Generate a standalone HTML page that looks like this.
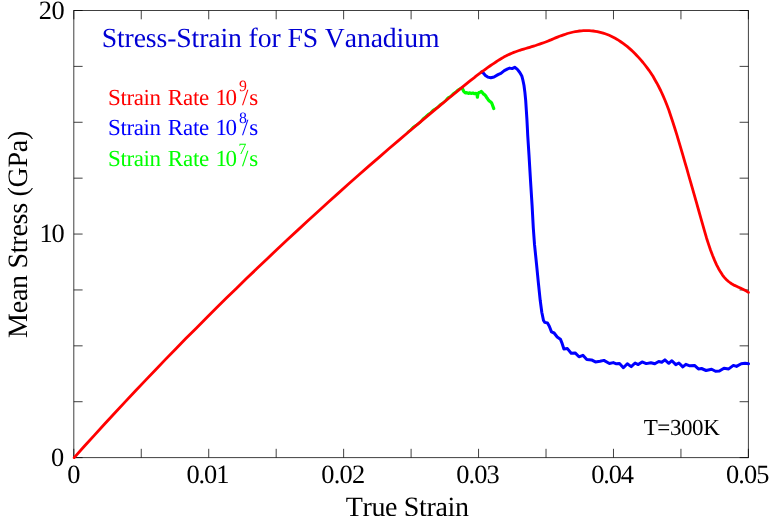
<!DOCTYPE html>
<html><head><meta charset="utf-8"><title>Stress-Strain for FS Vanadium</title>
<style>
html,body{margin:0;padding:0;background:#fff;overflow:hidden}
svg{display:block;will-change:transform}
text{font-family:"Liberation Serif",serif;font-kerning:none;text-rendering:geometricPrecision}
</style></head><body>
<svg width="771" height="516" viewBox="0 0 771 516">
<rect width="771" height="516" fill="#fff"/>
<rect x="73.8" y="10.5" width="674.6" height="447.1" fill="none" stroke="#000" stroke-opacity="0.75" stroke-width="1"/>
<path d="M73.80 457.6V448.8M73.80 10.5V19.3M141.26 457.6V448.8M141.26 10.5V19.3M208.72 457.6V448.8M208.72 10.5V19.3M276.18 457.6V448.8M276.18 10.5V19.3M343.64 457.6V448.8M343.64 10.5V19.3M411.10 457.6V448.8M411.10 10.5V19.3M478.56 457.6V448.8M478.56 10.5V19.3M546.02 457.6V448.8M546.02 10.5V19.3M613.48 457.6V448.8M613.48 10.5V19.3M680.94 457.6V448.8M680.94 10.5V19.3M748.40 457.6V448.8M748.40 10.5V19.3M73.8 457.60H82.6M748.4 457.60H739.6M73.8 401.71H82.6M748.4 401.71H739.6M73.8 345.83H82.6M748.4 345.83H739.6M73.8 289.94H82.6M748.4 289.94H739.6M73.8 234.05H82.6M748.4 234.05H739.6M73.8 178.16H82.6M748.4 178.16H739.6M73.8 122.27H82.6M748.4 122.27H739.6M73.8 66.39H82.6M748.4 66.39H739.6M73.8 10.50H82.6M748.4 10.50H739.6" fill="none" stroke="#000" stroke-opacity="0.75" stroke-width="1"/>
<g fill="none" stroke-linejoin="round" stroke-linecap="round">
<polyline points="408.0,132.0 410.5,130.1 413.0,127.3 415.5,125.6 418.0,124.1 420.5,122.0 423.0,118.7 425.5,116.7 428.0,114.4 430.5,112.9 433.0,110.1 435.5,108.7 438.0,107.0 440.5,104.3 443.0,102.9 445.5,100.6 448.0,97.7 450.5,96.4 453.0,93.9 455.5,92.1 458.0,89.8 460.5,88.4" stroke="#00ff00" stroke-width="2.6"/>
<polyline points="461.8,88.0 462.5,88.8 463.7,91.3 465.3,92.8 466.8,92.7 468.4,93.4 470.0,92.9 471.5,93.4 473.0,93.0 474.6,93.7 476.0,93.4 477.1,94.6 477.4,97.2 477.8,94.2 478.9,92.5 480.2,92.2 481.4,91.5 482.4,92.6 483.3,93.8 484.5,94.6 485.7,95.9 486.6,97.4 487.6,98.7 488.5,100.2 489.5,101.2 490.6,101.8 491.6,102.8 492.3,104.5 492.9,106.2 493.8,108.6" stroke="#00ff00" stroke-width="3.2"/>
<polyline points="481.6,72.1 483.1,72.8 485.4,75.5 487.8,77.1 490.8,77.7 494.0,77.0 498.0,74.6 500.9,73.3 504.3,70.6 507.7,68.8 509.6,68.1 512.1,68.6 514.7,67.3 517.4,69.4 519.8,72.5 521.8,75.9 522.7,79.3 523.5,83.0 524.0,85.5 524.9,92.4 525.7,100.6 526.3,109.9 526.9,119.2 527.4,128.5 527.7,135.0 529.0,155.2 530.5,180.4 532.1,205.6 533.3,228.0 534.5,244.4 536.5,263.8 538.4,283.1 540.2,300.3 541.8,312.3 543.5,320.5 544.8,322.4 547.5,323.0 549.3,326.2 551.5,331.9 554.1,333.0 557.2,337.0 560.4,339.2 561.9,342.8 563.9,349.0 567.4,348.6 571.2,353.2 575.1,352.9 579.0,356.8 582.9,355.3 586.8,359.6 591.5,359.9 595.4,361.9 600.0,361.2 603.9,360.4 609.4,363.5 613.3,362.6 616.4,363.8 619.5,363.5 623.4,367.7 627.3,363.8 631.2,366.6 635.1,363.0 638.2,364.6 642.1,361.9 646.2,363.6 650.9,362.7 654.8,363.8 658.7,361.5 661.8,362.2 664.9,359.9 668.8,363.3 671.9,360.7 675.8,364.6 678.9,363.0 682.8,366.9 685.9,364.3 689.8,365.8 694.5,365.4 698.4,368.9 701.5,368.5 706.1,370.5 711.6,369.2 715.5,371.3 719.4,371.1 724.0,368.2 728.7,368.9 733.4,365.4 736.5,366.4 741.2,363.8 745.1,363.3 748.5,363.8" stroke="#0000ff" stroke-width="3.0"/>
<polyline points="74.2,457.6 84.3,446.3 94.5,435.1 104.6,424.0 114.8,413.0 124.9,402.1 135.1,391.3 145.2,380.6 155.4,370.0 165.5,359.4 175.7,349.0 185.8,338.6 196.0,328.4 206.1,318.2 216.3,308.1 226.4,298.1 236.6,288.2 246.7,278.3 256.9,268.6 267.0,258.9 277.2,249.3 287.3,239.8 297.5,230.4 307.6,221.0 317.8,211.7 327.9,202.5 338.1,193.4 348.2,184.3 358.4,175.3 368.5,166.4 378.7,157.6 388.8,148.8 399.0,140.1 409.1,131.5 419.3,122.9 429.4,114.4 439.6,105.9 449.7,97.5 459.9,89.1 470.0,80.9 472.0,79.3 474.0,77.8 476.0,76.2 478.0,74.7 480.0,73.2 481.9,71.7 483.9,70.3 485.9,68.8 487.9,67.4 489.9,66.0 491.9,64.6 493.9,63.3 495.9,62.0 497.9,60.7 499.8,59.5 501.8,58.3 503.8,57.1 505.8,56.1 507.8,55.0 509.8,54.1 511.8,53.2 513.8,52.4 515.7,51.7 517.7,51.0 519.7,50.3 521.7,49.7 523.7,49.1 525.7,48.5 527.7,47.9 529.7,47.3 531.7,46.7 533.6,46.1 535.6,45.5 537.6,44.8 539.6,44.1 541.6,43.4 543.6,42.7 545.6,42.0 547.6,41.2 549.6,40.4 551.5,39.6 553.5,38.7 555.5,37.9 557.5,37.1 559.5,36.3 561.5,35.6 563.5,34.9 565.5,34.2 567.4,33.5 569.4,33.0 571.4,32.5 573.4,32.0 575.4,31.6 577.4,31.3 579.4,31.0 581.4,30.8 583.4,30.7 585.3,30.6 587.3,30.6 589.3,30.7 591.3,30.8 593.3,31.0 595.3,31.3 597.3,31.6 599.3,32.1 601.3,32.6 603.2,33.1 605.2,33.8 607.2,34.5 609.2,35.3 611.2,36.2 613.2,37.2 615.2,38.3 617.2,39.4 619.1,40.6 621.1,42.0 623.1,43.4 625.1,44.9 627.1,46.4 629.1,48.1 631.1,49.9 633.1,51.7 635.1,53.7 637.0,55.8 639.0,57.9 641.0,60.2 643.0,62.5 645.0,65.0 647.0,67.6 649.0,70.3 651.0,73.2 653.0,76.3 654.9,79.7 656.9,83.2 658.9,87.0 660.9,91.0 662.9,95.4 664.9,100.0 666.9,105.0 668.9,110.3 670.8,116.0 672.8,122.0 674.8,128.2 676.8,134.7 678.8,141.4 680.8,148.1 682.8,154.9 684.8,161.8 686.8,168.6 688.7,175.5 690.7,182.4 692.7,189.4 694.7,196.4 696.7,203.4 698.7,210.5 700.7,217.6 702.7,224.7 704.7,231.6 706.6,238.2 708.6,244.4 710.6,250.2 712.6,255.5 714.6,260.4 716.6,264.8 718.6,268.7 720.6,272.1 722.5,275.1 724.5,277.6 726.5,279.7 728.5,281.5 730.5,283.0 732.5,284.3 734.5,285.4 736.5,286.3 738.5,287.2 740.4,288.1 742.4,289.0 744.4,290.0 746.4,291.1 748.4,292.4" stroke="#ff0000" stroke-width="2.8"/>
</g>
<g fill="#000"><text x="67.19" y="482.5" font-size="26.4">0</text><text x="186.41 198.54 204.08 216.21" y="482.5" font-size="26.4">0.01</text><text x="321.33 333.76 339.58 352.00" y="482.5" font-size="26.4">0.02</text><text x="456.25 468.53 474.21 486.49" y="482.5" font-size="26.4">0.03</text><text x="591.17 603.25 608.72 620.79" y="482.5" font-size="26.4">0.04</text><text x="726.09 738.37 744.05 756.33" y="482.5" font-size="26.4">0.05</text><text x="51.09" y="466.3" font-size="26.4">0</text><text x="39.58 51.41" y="242.4" font-size="26.4">10</text><text x="38.84 51.41" y="18.5" font-size="26.4">20</text>
<text x="345.69 362.46 371.44 385.10 397.19 403.85 419.08 426.52 435.50 447.59 455.02" y="516" font-size="28">True Strain</text>
<g transform="translate(26.6 234.5) rotate(-90)"><text x="-103.41 -78.78 -66.62 -54.46 -40.72 -33.99 -18.69 -11.18 -2.12 10.04 20.67 31.30 38.03 47.09 67.04 82.35 94.51" y="0" font-size="28">Mean Stress (GPa)</text></g>
<text x="643.68 657.34 669.91 681.02 692.12 703.23" y="435" font-size="23.0">T=300K</text>
</g>
<text x="101.65 116.94 124.53 133.65 145.83 156.50 167.17 176.29 191.58 199.17 208.29 220.47 228.06 241.80 248.62 257.73 271.47 280.59 287.40 302.70 318.00 324.81 344.71 356.89 370.63 382.82 396.56 404.15 417.89" y="47.2" font-size="27.7" fill="#0000d4">Stress-Strain for FS Vanadium</text>
<g fill="#ff0000"><text x="107.96 120.38 126.40 133.69 143.53 149.55" y="104.5" font-size="23.0">Strain</text><text x="167.74 182.88 192.89 199.09" y="104.5" font-size="23.0">Rate</text><text x="215.48 225.38" y="104.5" font-size="23.0">10</text><text x="238.99" y="90.8" font-size="15.8">9</text><text x="242.10" y="104.5" font-size="23.0">/</text><text x="249.36" y="104.5" font-size="23.0">s</text></g>
<g fill="#0000ff"><text x="107.96 120.38 126.40 133.69 143.53 149.55" y="134.8" font-size="23.0">Strain</text><text x="167.74 182.88 192.89 199.09" y="134.8" font-size="23.0">Rate</text><text x="215.48 225.38" y="134.8" font-size="23.0">10</text><text x="238.90" y="122.5" font-size="15.8">8</text><text x="242.10" y="134.8" font-size="23.0">/</text><text x="249.36" y="134.8" font-size="23.0">s</text></g>
<g fill="#00ff00"><text x="107.96 120.38 126.40 133.69 143.53 149.55" y="165.8" font-size="23.0">Strain</text><text x="167.74 182.88 192.89 199.09" y="165.8" font-size="23.0">Rate</text><text x="215.48 225.38" y="165.8" font-size="23.0">10</text><text x="238.46" y="153.8" font-size="15.8">7</text><text x="242.10" y="165.8" font-size="23.0">/</text><text x="249.36" y="165.8" font-size="23.0">s</text></g>
</svg>
</body></html>
